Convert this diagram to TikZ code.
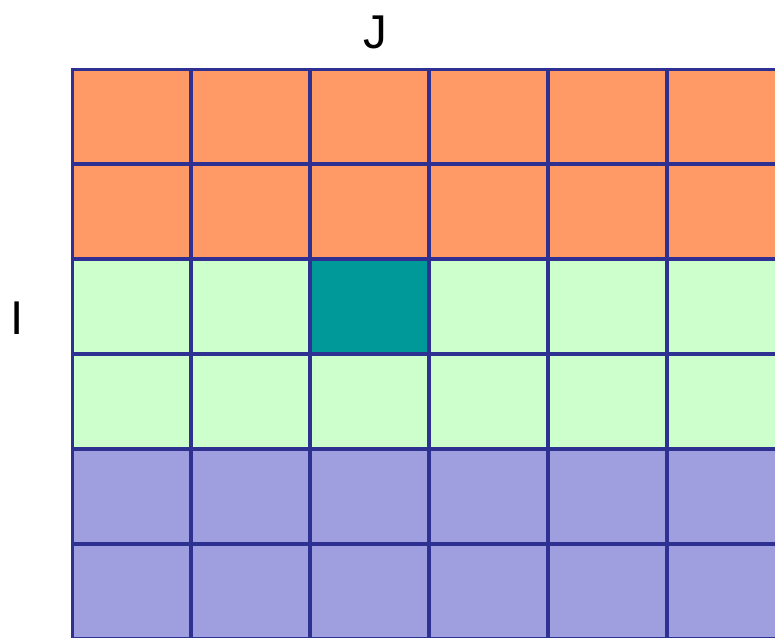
\documentclass[tikz,border=0pt]{standalone}
\usepackage{fontspec}
\setmainfont{Liberation Sans}
\usepackage{tikz}
\usetikzlibrary{positioning}
\definecolor{gridline}{HTML}{2E3192}
\definecolor{rowtop}{HTML}{FF9966}
\definecolor{rowmid}{HTML}{CCFFCC}
\definecolor{rowlow}{HTML}{9F9FDF}
\definecolor{pick}{HTML}{009999}
\tikzset{
  cell/.style={
    rectangle, draw=gridline, line width=0.06cm,
    minimum width=2.38cm, minimum height=1.9cm,
    inner sep=0pt, outer sep=0pt,
  },
  axislabel/.style={font=\fontsize{27}{30}\selectfont, inner sep=0pt},
}
\begin{document}
\begin{tikzpicture}[x=0.02cm,y=-0.02cm]
  \useasboundingbox (0,0) rectangle (775,638);
  \begin{scope}
    \clip (0,0) rectangle (775,638);
    \foreach \r/\col in {0/rowtop,1/rowtop,2/rowmid,3/rowmid,4/rowlow,5/rowlow}{
      \foreach \c in {0,...,5}{
        \node[cell,fill=\col] (c-\r-\c) at ({131.5+119*\c},{116.5+95*\r}) {};
      }
    }
    \node[cell,fill=pick] (hit) at (c-2-2) {};
  \end{scope}
  \node[axislabel] (jlab) at (375,32) {J};
  \node[axislabel] (ilab) at (17,318) {I};
\end{tikzpicture}
\end{document}
